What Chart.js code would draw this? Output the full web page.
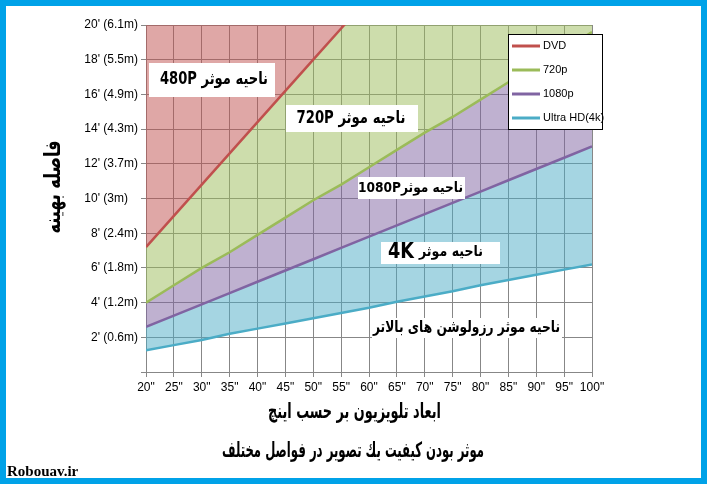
<!DOCTYPE html>
<html>
<head>
<meta charset="utf-8">
<script src="https://cdn.jsdelivr.net/npm/chart.js@4/dist/chart.umd.min.js"></script>
<style>
  html, body { margin: 0; padding: 0; background: #fff; }
</style>
</head>
<body>
<canvas id="chart" width="707" height="484"></canvas>
<script>
// TV size in inches (x axis)
const sizes = [20, 25, 30, 35, 40, 45, 50, 55, 60, 65, 70, 75, 80, 85, 90, 95, 100];
// optimal viewing distance in feet
const dvd   = [7.2, 9.0, 10.8, 12.6, 14.4, 16.2, 18.0, 19.8, 21.6, 23.4, 25.2, 27.0, 28.8, 30.6, 32.4, 34.2, 36.0];
const p720  = [4.0, 5.0, 6.0, 6.9, 7.9, 8.9, 9.9, 10.8, 11.8, 12.8, 13.8, 14.7, 15.7, 16.7, 17.6, 18.6, 19.6];
const p1080 = [2.6, 3.25, 3.9, 4.55, 5.2, 5.85, 6.5, 7.15, 7.8, 8.45, 9.1, 9.75, 10.4, 11.05, 11.7, 12.35, 13.0];
const uhd   = [1.25, 1.55, 1.85, 2.2, 2.5, 2.8, 3.1, 3.4, 3.7, 4.05, 4.35, 4.65, 5.0, 5.3, 5.6, 5.9, 6.2];

const seriesLabels = ['DVD', '720p', '1080p', 'Ultra HD(4k)'];
const yTickLabels = ["", "2' (0.6m)", "4' (1.2m)", "6' (1.8m)", "8' (2.4m)", "10' (3m)   ",
                     "12' (3.7m)", "14' (4.3m)", "16' (4.9m)", "18' (5.5m)", "20' (6.1m)"];

const xTitle = 'ابعاد تلویزیون بر حسب اینچ';
const yTitle = 'فاصله بهینه';
const caption = 'موثر بودن کیفيت يك تصوير در فواصل مختلف';
const watermark = 'Robouav.ir';

const pts = vals => vals.map((v, i) => ({ x: sizes[i], y: v }));

const gridGrey = '#878787';
const arabicFont = '"DejaVu Sans", sans-serif';

// blue frame around the picture
const framePlugin = {
    id: 'frame',
    beforeDraw(chart) {
        const ctx = chart.ctx;
        ctx.save();
        ctx.fillStyle = '#00a2e8';
        ctx.fillRect(0, 0, chart.width, chart.height);
        ctx.fillStyle = '#ffffff';
        ctx.fillRect(6, 6, 695, 472);
        ctx.restore();
    }
};

// draw text squeezed to a given width (DejaVu arabic runs wide)
function fitText(ctx, text, cx, cy, size, width) {
    ctx.font = 'bold ' + size + 'px ' + arabicFont;
    const w = ctx.measureText(text).width;
    ctx.save();
    ctx.translate(cx, cy);
    ctx.scale(Math.min(1, width / w), 1);
    ctx.fillText(text, 0, 0);
    ctx.restore();
}

function boxLabel(ctx, box, text, size, cx, cy, width) {
    ctx.fillStyle = '#ffffff';
    ctx.fillRect(box[0], box[1], box[2], box[3]);
    ctx.fillStyle = '#000000';
    fitText(ctx, text, cx, cy, size, width);
}

// region labels, legend, titles
const overlayPlugin = {
    id: 'overlay',
    afterDraw(chart) {
        const ctx = chart.ctx;
        ctx.save();
        ctx.direction = 'rtl';
        ctx.textAlign = 'center';
        ctx.textBaseline = 'middle';

        boxLabel(ctx, [149, 63, 126, 34], 'ناحیه موثر 480P', 17, 214, 80, 108);
        boxLabel(ctx, [286, 105, 132, 27], 'ناحیه موثر 720P', 17, 351, 118.5, 109);
        boxLabel(ctx, [358, 177, 107, 22], 'ناحیه موثر1080P', 14, 410.5, 188, 105);
        // 4K label: two font sizes
        boxLabel(ctx, [381, 242, 119, 22], 'ناحیه موثر', 15, 451, 252, 64);
        fitText(ctx, '4K', 401, 253, 21, 26);
        boxLabel(ctx, [372, 318, 190, 20], 'ناحیه موثر رزولوشن های بالاتر', 16, 466.5, 328, 187);

        // axis titles and caption
        fitText(ctx, xTitle, 354.5, 413, 21, 173);
        fitText(ctx, caption, 353, 452, 21, 262);
        ctx.save();
        ctx.translate(54, 187);
        ctx.rotate(-Math.PI / 2);
        fitText(ctx, yTitle, 0, 0, 22, 93);
        ctx.restore();

        // legend box
        ctx.direction = 'ltr';
        ctx.fillStyle = '#ffffff';
        ctx.fillRect(508, 34, 95, 96);
        ctx.strokeStyle = '#000000';
        ctx.lineWidth = 1;
        ctx.strokeRect(508.5, 34.5, 94, 95);
        ctx.textAlign = 'left';
        ctx.font = '11px "Liberation Sans", Arial, sans-serif';
        chart.data.datasets.forEach((ds, i) => {
            const y = 46 + i * 24;
            ctx.strokeStyle = ds.borderColor;
            ctx.lineWidth = 3;
            ctx.beginPath();
            ctx.moveTo(512, y);
            ctx.lineTo(540, y);
            ctx.stroke();
            ctx.fillStyle = '#000000';
            ctx.fillText(ds.label, 543, y);
        });

        // watermark
        ctx.font = 'bold 15px "Liberation Serif", serif';
        ctx.textBaseline = 'alphabetic';
        ctx.fillText(watermark, 7, 476);
        ctx.restore();
    }
};

new Chart(document.getElementById('chart'), {
    type: 'line',
    data: {
        datasets: [
            {
                label: seriesLabels[0],
                data: pts(dvd),
                borderColor: '#c0504d',
                backgroundColor: 'rgba(192, 80, 77, 0.5)',
                fill: 'end'
            },
            {
                label: seriesLabels[1],
                data: pts(p720),
                borderColor: '#9bbb59',
                backgroundColor: 'rgba(155, 187, 89, 0.5)',
                fill: '-1'
            },
            {
                label: seriesLabels[2],
                data: pts(p1080),
                borderColor: '#8064a2',
                backgroundColor: 'rgba(128, 100, 162, 0.5)',
                fill: '-1'
            },
            {
                label: seriesLabels[3],
                data: pts(uhd),
                borderColor: '#4bacc6',
                backgroundColor: 'rgba(75, 172, 198, 0.5)',
                fill: '-1'
            }
        ]
    },
    options: {
        responsive: false,
        animation: false,
        devicePixelRatio: 1,
        elements: {
            point: { radius: 0 },
            line: { borderWidth: 2.5, tension: 0 }
        },
        layout: { padding: { left: 0, top: 25, right: 115, bottom: 82 } },
        plugins: {
            legend: { display: false },
            tooltip: { enabled: false }
        },
        scales: {
            x: {
                type: 'linear',
                min: 20,
                max: 100,
                afterFit: s => { s.height = 30; },
                grid: { color: gridGrey, tickColor: gridGrey, tickLength: 5 },
                border: { color: gridGrey },
                ticks: {
                    stepSize: 5,
                    color: '#000',
                    padding: 3,
                    maxRotation: 0,
                    font: { family: '"Liberation Sans", Arial, sans-serif', size: 12 },
                    callback: v => v + '"'
                }
            },
            y: {
                min: 0,
                max: 20,
                afterFit: s => { s.width = 146; },
                grid: { color: gridGrey, tickColor: gridGrey, tickLength: 5 },
                border: { color: gridGrey },
                ticks: {
                    stepSize: 2,
                    color: '#000',
                    padding: 3,
                    font: { family: '"Liberation Sans", Arial, sans-serif', size: 12 },
                    callback: v => yTickLabels[v / 2]
                }
            }
        }
    },
    plugins: [framePlugin, overlayPlugin]
});
</script>
</body>
</html>
